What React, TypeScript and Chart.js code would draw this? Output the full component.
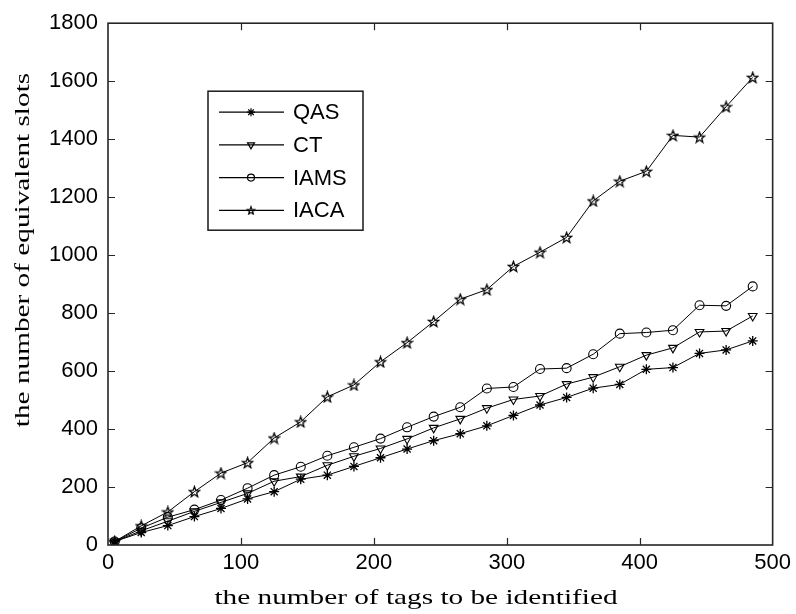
import React, { useEffect, useRef } from "react";
import { Chart, registerables } from "chart.js";
import { drawPoint } from "chart.js/helpers";

Chart.register(...registerables);

// ---------- data ----------
const tagCounts = [5, 25, 45, 65, 85, 105, 125, 145, 165, 185, 205, 225, 245, 265, 285, 305, 325, 345, 365, 385, 405, 425, 445, 465, 485];
const qasSlots = [12, 43, 67, 98, 126, 159, 184, 227, 241, 271, 301, 331, 360, 384, 411, 447, 483, 509, 541, 554, 606, 612, 661, 673, 704];
const ctSlots = [12, 49, 82, 116, 147, 178, 220, 236, 275, 306, 333, 366, 404, 435, 472, 502, 514, 555, 579, 615, 655, 680, 735, 738, 790];
const iamsSlots = [12, 58, 96, 122, 155, 196, 241, 270, 308, 337, 367, 406, 443, 475, 540, 545, 607, 610, 658, 729, 733, 741, 827, 825, 892];
const iacaSlots = [12, 66, 114, 184, 248, 284, 369, 425, 511, 552, 632, 698, 771, 848, 881, 961, 1010, 1061, 1187, 1255, 1289, 1413, 1407, 1512, 1613];
const seriesNames = ["QAS", "CT", "IAMS", "IACA"];
const xTicksMax = 500;
const yTicksMax = 1800;
const xTitle = "the number of tags to be identified";
const yTitle = "the number of equivalent slots";

const SANS = "'Liberation Sans', Arial, sans-serif";
const SERIF = "'Liberation Serif', 'Times New Roman', serif";

function makePentagram(size: number, lw: number) {
  const c = document.createElement("canvas");
  c.width = size;
  c.height = size;
  const ctx = c.getContext("2d")!;
  const cx = size / 2;
  const cy = size / 2 + 0.5;
  const R = size / 2 - 1;
  const r = R * 0.42;
  ctx.beginPath();
  for (let i = 0; i < 10; i++) {
    const ang = -Math.PI / 2 + (i * Math.PI) / 5;
    const rad = i % 2 === 0 ? R : r;
    const px = cx + rad * Math.cos(ang);
    const py = cy + rad * Math.sin(ang);
    if (i === 0) ctx.moveTo(px, py);
    else ctx.lineTo(px, py);
  }
  ctx.closePath();
  ctx.strokeStyle = "#000";
  ctx.lineWidth = lw;
  ctx.stroke();
  return c;
}

const frameAndTicks = {
  id: "frameAndTicks",
  afterDraw(chart: any) {
    const { ctx, chartArea: a, scales } = chart;
    ctx.save();
    ctx.strokeStyle = "#262626";
    ctx.lineWidth = 1.6;
    ctx.strokeRect(a.left, a.top, a.right - a.left, a.bottom - a.top);
    ctx.lineWidth = 1.2;
    const tl = 7;
    ctx.beginPath();
    scales.x.ticks.forEach((t: any) => {
      const px = Math.round(scales.x.getPixelForValue(t.value)) + 0.5;
      if (px - a.left < 2 || a.right - px < 2) return;
      ctx.moveTo(px, a.bottom);
      ctx.lineTo(px, a.bottom - tl);
      ctx.moveTo(px, a.top);
      ctx.lineTo(px, a.top + tl);
    });
    scales.y.ticks.forEach((t: any) => {
      const py = Math.round(scales.y.getPixelForValue(t.value)) + 0.5;
      if (py - a.top < 2 || a.bottom - py < 2) return;
      ctx.moveTo(a.left, py);
      ctx.lineTo(a.left + tl, py);
      ctx.moveTo(a.right, py);
      ctx.lineTo(a.right - tl, py);
    });
    ctx.stroke();
    ctx.restore();
  },
};

const titlesPlugin = {
  id: "stretchedTitles",
  afterDraw(chart: any) {
    const { ctx } = chart;
    ctx.save();
    ctx.fillStyle = "#000";
    ctx.font = `22px ${SERIF}`;
    ctx.textAlign = "center";
    ctx.textBaseline = "middle";
    const stretch = 1.33;
    ctx.save();
    ctx.translate(416, 598);
    ctx.scale(stretch, 1);
    ctx.fillText(xTitle, 0, 0);
    ctx.restore();
    ctx.save();
    ctx.translate(23, 250);
    ctx.rotate(-Math.PI / 2);
    ctx.scale(stretch, 1);
    ctx.fillText(yTitle, 0, 0);
    ctx.restore();
    ctx.restore();
  },
};

export default function App() {
  const canvasRef = useRef<HTMLCanvasElement | null>(null);

  useEffect(() => {
    const canvas = canvasRef.current;
    if (!canvas) return;
    const pentaData = makePentagram(13, 1.3);
    const pentaLegend = makePentagram(10, 1.2);

    const styles = [
      { pointStyle: "star", radius: 5, rotation: 0, legendStyle: "star", legendRadius: 4 },
      { pointStyle: "triangle", radius: 5, rotation: 180, legendStyle: "triangle", legendRadius: 4 },
      { pointStyle: "circle", radius: 4.5, rotation: 0, legendStyle: "circle", legendRadius: 3.5 },
      { pointStyle: pentaData, radius: 5, rotation: 0, legendStyle: pentaLegend, legendRadius: 4 },
    ];
    const seriesValues = [qasSlots, ctSlots, iamsSlots, iacaSlots];

    const legendPlugin = {
      id: "boxLegend",
      afterDraw(chart: any) {
        const { ctx, chartArea } = chart;
        const x0 = chartArea.left + 100;
        const y0 = chartArea.top + 68;
        const w = 155;
        const h = 139;
        ctx.save();
        ctx.fillStyle = "#fff";
        ctx.fillRect(x0, y0, w, h);
        ctx.strokeStyle = "#1a1a1a";
        ctx.lineWidth = 1.5;
        ctx.strokeRect(x0, y0, w, h);
        chart.data.datasets.forEach((ds: any, i: number) => {
          const y = y0 + 21 + i * 32.7;
          ctx.strokeStyle = "#000";
          ctx.lineWidth = 1.2;
          ctx.beginPath();
          ctx.moveTo(x0 + 11, y);
          ctx.lineTo(x0 + 76, y);
          ctx.stroke();
          ctx.fillStyle = "rgba(0,0,0,0)";
          ctx.lineWidth = 1.2;
          drawPoint(
            ctx,
            {
              pointStyle: styles[i].legendStyle as any,
              rotation: styles[i].rotation,
              radius: styles[i].legendRadius,
              borderWidth: 1.2,
            },
            x0 + 43,
            y
          );
          ctx.fillStyle = "#000";
          ctx.font = `22px ${SANS}`;
          ctx.textAlign = "left";
          ctx.textBaseline = "middle";
          ctx.fillText(ds.label, x0 + 85, y + 1);
        });
        ctx.restore();
      },
    };

    const chart = new Chart(canvas, {
      type: "line",
      data: {
        datasets: seriesNames.map((name, i) => ({
          label: name,
          data: tagCounts.map((x, j) => ({ x, y: seriesValues[i][j] })),
          borderColor: "#000",
          borderWidth: 1,
          backgroundColor: "rgba(0,0,0,0)",
          pointBorderColor: "#000",
          pointBackgroundColor: "rgba(0,0,0,0)",
          pointBorderWidth: i === 0 ? 1.3 : 1.1,
          pointStyle: styles[i].pointStyle as any,
          pointRotation: styles[i].rotation,
          pointRadius: styles[i].radius,
          tension: 0,
          fill: false,
        })),
      },
      options: {
        animation: false,
        responsive: true,
        maintainAspectRatio: false,
        layout: { padding: { top: 19, right: 21, left: 0, bottom: 0 } },
        plugins: {
          legend: { display: false },
          tooltip: { enabled: false },
        },
        scales: {
          x: {
            type: "linear",
            min: 0,
            max: xTicksMax,
            ticks: {
              stepSize: 100,
              color: "#000",
              padding: 5,
              font: { family: SANS, size: 22 },
              maxRotation: 0,
              callback: (v: any) => String(v),
            },
            grid: { display: false, drawTicks: false },
            border: { display: false },
            afterFit: (s: any) => {
              s.height = 69;
            },
          },
          y: {
            type: "linear",
            min: 0,
            max: yTicksMax,
            ticks: {
              stepSize: 200,
              color: "#000",
              padding: 10,
              font: { family: SANS, size: 22 },
              callback: (v: any) => String(v),
            },
            grid: { display: false, drawTicks: false },
            border: { display: false },
            afterFit: (s: any) => {
              s.width = 108;
            },
          },
        },
      },
      plugins: [frameAndTicks, legendPlugin, titlesPlugin],
    });
    return () => chart.destroy();
  }, []);

  return (
    <div style={{ position: "fixed", left: 0, top: 0, width: 796, height: 614, background: "#fff" }}>
      <canvas ref={canvasRef} />
    </div>
  );
}
